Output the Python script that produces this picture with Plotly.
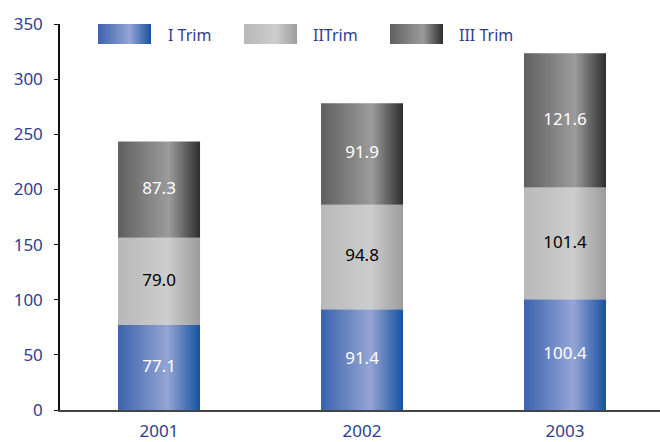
import plotly.graph_objects as go

# Quarterly totals per year
years = ["2001", "2002", "2003"]
series_names = ["I Trim", "IITrim", "III Trim"]
trim_1 = [77.1, 91.4, 100.4]
trim_2 = [79.0, 94.8, 101.4]
trim_3 = [87.3, 91.9, 121.6]
y_ticks = [0, 50, 100, 150, 200, 250, 300, 350]

series_values = [trim_1, trim_2, trim_3]

# Horizontal shading for each series (edge -> highlight -> edge)
gradients = [
    [[0.0, "#3a63ad"], [0.6, "#95a5d5"], [1.0, "#1751a0"]],
    [[0.0, "#b8b8b8"], [0.6, "#cdcdcd"], [1.0, "#9c9c9c"]],
    [[0.0, "#5f5f5f"], [0.62, "#9c9c9c"], [1.0, "#2e2e2e"]],
]
label_colors = ["white", "black", "white"]

BLUE = "#2f3d8e"
FONT = "Noto Sans, DejaVu Sans, sans-serif"
bar_width = 0.404

fig = go.Figure()

# Stacked bars as gradient-filled rectangles, one trace per segment
for xi, year in enumerate(years):
    base = 0.0
    for si, vals in enumerate(series_values):
        v = vals[xi]
        x0, x1 = xi - bar_width / 2, xi + bar_width / 2
        fig.add_trace(go.Scatter(
            x=[x0, x1, x1, x0, x0],
            y=[base, base, base + v, base + v, base],
            mode="lines", fill="toself",
            line=dict(width=0, color="rgba(0,0,0,0)"),
            fillgradient=dict(type="horizontal", colorscale=gradients[si]),
            hoverinfo="skip", showlegend=False,
            xaxis="x", yaxis="y",
        ))
        base += v

# Value labels centred in each segment
for si, vals in enumerate(series_values):
    mids = []
    for xi in range(len(years)):
        below = sum(series_values[k][xi] for k in range(si))
        mids.append(below + vals[xi] / 2)
    fig.add_trace(go.Scatter(
        x=list(range(len(years))), y=mids,
        mode="text", text=[f"{v:.1f}" for v in vals],
        textfont=dict(family=FONT, size=17, color=label_colors[si]),
        hoverinfo="skip", showlegend=False,
        xaxis="x", yaxis="y",
    ))

# Legend: gradient swatches on a full-figure pixel-space axis pair
swatch_left = [98, 244, 390]
label_left = [166, 311, 457]
for si, name in enumerate(series_names):
    x0, x1 = swatch_left[si], swatch_left[si] + 53
    fig.add_trace(go.Scatter(
        x=[x0, x1, x1, x0, x0], y=[24, 24, 44, 44, 24],
        mode="lines", fill="toself",
        line=dict(width=0, color="rgba(0,0,0,0)"),
        fillgradient=dict(type="horizontal", colorscale=gradients[si]),
        hoverinfo="skip", showlegend=False,
        xaxis="x2", yaxis="y2",
    ))
    fig.add_annotation(
        x=label_left[si], y=35, xref="x2", yref="y2",
        text=name, showarrow=False, xanchor="left", yanchor="middle",
        font=dict(family=FONT, size=16, color=BLUE),
    )

fig.update_layout(
    width=660, height=442,
    font=dict(family=FONT, color=BLUE),
    margin=dict(l=0, r=0, t=0, b=0),
    paper_bgcolor="white", plot_bgcolor="rgba(0,0,0,0)",
    xaxis=dict(
        domain=[60 / 660, 1.0],
        range=[-0.488, 2.468],
        tickvals=list(range(len(years))), ticktext=years,
        showgrid=False, zeroline=False,
        showline=True, linecolor="#444444", linewidth=1.5,
        ticks="", ticklabelstandoff=5,
        tickfont=dict(family=FONT, size=17, color=BLUE),
        automargin=False,
    ),
    yaxis=dict(
        domain=[1 - 410 / 442, 1 - 24 / 442],
        range=[0, 350],
        tickvals=y_ticks,
        showgrid=False, zeroline=False,
        showline=True, linecolor="#111111", linewidth=1.5,
        ticks="outside", ticklen=4, tickcolor="#111111", tickwidth=1.2,
        ticklabelstandoff=8,
        tickfont=dict(family=FONT, size=17, color=BLUE),
        automargin=False,
    ),
    xaxis2=dict(domain=[0, 1], range=[0, 660], visible=False,
                anchor="y2", fixedrange=True),
    yaxis2=dict(domain=[0, 1], range=[442, 0], visible=False,
                anchor="x2", fixedrange=True),
    showlegend=False,
)

fig.write_html("out.html")
